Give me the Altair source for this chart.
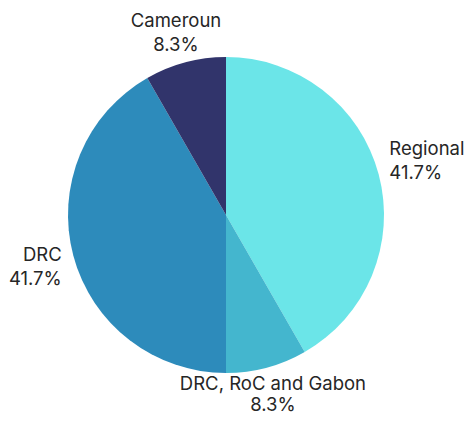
import altair as alt
import pandas as pd

categories = ["Regional", "DRC, RoC and Gabon", "DRC", "Cameroun"]
values = [41.7, 8.3, 41.7, 8.3]
pct_labels = ["41.7%", "8.3%", "41.7%", "8.3%"]
colors = ["#6be5e8", "#44b6ce", "#2d8bbb", "#31346b"]

df = pd.DataFrame({
    "category": categories,
    "value": values,
    "pct": pct_labels,
    "order": list(range(len(categories))),
})
df["label"] = df["category"] + "\n" + df["pct"]

cx, cy = 218, 207

pie = alt.Chart(df).mark_arc(outerRadius=158, stroke=None).encode(
    theta=alt.Theta("value:Q", stack=True),
    order=alt.Order("order:Q"),
    color=alt.Color("category:N",
                    scale=alt.Scale(domain=categories, range=colors),
                    legend=None),
    x=alt.value(cx),
    y=alt.value(cy),
)

lab = alt.Chart(df).transform_joinaggregate(
    total="sum(value)"
).transform_window(
    cum="sum(value)", sort=[alt.SortField("order")]
).transform_calculate(
    midv="datum.cum - datum.value / 2",
    mid="(datum.cum - datum.value / 2) / datum.total * 360",
).encode(
    theta=alt.Theta("midv:Q", stack=None),
    text="label:N",
    x=alt.value(cx),
    y=alt.value(cy),
)

text_style = dict(fontSize=18.5, font="Inter", fontWeight=400, lineBreak="\n",
                  color="#262626", baseline="middle")

text_top = lab.transform_filter(
    "datum.mid < 30 || datum.mid > 330"
).mark_text(radius=194, align="center", dy=-7, lineHeight=24, **text_style)

text_bottom = lab.transform_filter(
    "datum.mid > 150 && datum.mid < 210"
).mark_text(radius=182, align="center", dy=-7, lineHeight=21, **text_style)

text_right = lab.transform_filter(
    "datum.mid >= 30 && datum.mid <= 150"
).mark_text(radius=169, align="left", dy=-22, lineHeight=24, **text_style)

text_left = lab.transform_filter(
    "datum.mid >= 210 && datum.mid <= 330"
).mark_text(radius=170, align="right", dy=-3.5, lineHeight=24, **text_style)

chart = (pie + text_top + text_bottom + text_right + text_left).properties(
    width=460, height=407,
    autosize=alt.AutoSizeParams(type="none"),
    padding=0,
).configure_view(stroke=None)

chart.save("out.html", embed_options={"renderer": "svg", "actions": False})
